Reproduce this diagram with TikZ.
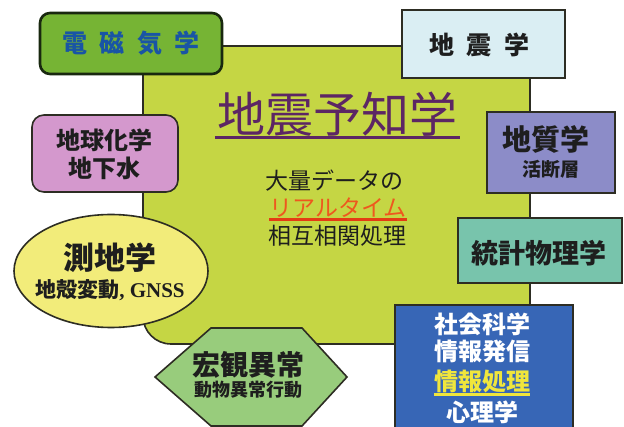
\documentclass[tikz,border=0pt]{standalone}
\usepackage{fontspec}
\setmainfont{Liberation Serif}
\newfontfamily\jp{Noto Sans CJK JP}
\usetikzlibrary{shapes.geometric}
\definecolor{core}{RGB}{197,214,68}
\definecolor{edge}{RGB}{45,45,35}
\definecolor{emedge}{RGB}{25,40,15}
\definecolor{emg}{RGB}{118,180,52}
\definecolor{emtxt}{RGB}{25,85,165}
\definecolor{seis}{RGB}{218,238,243}
\definecolor{geol}{RGB}{140,140,200}
\definecolor{geoc}{RGB}{212,152,205}
\definecolor{geod}{RGB}{242,236,122}
\definecolor{anom}{RGB}{152,204,124}
\definecolor{stat}{RGB}{120,196,172}
\definecolor{soc}{RGB}{55,102,182}
\definecolor{ttl}{RGB}{92,38,100}
\definecolor{rt}{RGB}{238,88,30}
\definecolor{rtline}{RGB}{228,60,20}
\definecolor{hl}{RGB}{240,230,60}
\definecolor{ink}{RGB}{30,30,30}
\begin{document}
\begin{tikzpicture}[x=1pt,y=-1pt,
  box/.style={draw=edge,line width=1.6pt,inner sep=0pt},
  lbl/.style={inner sep=0pt,text=ink},
  fb/.style={font=\jp\bfseries\fontsize{#1}{#1}\selectfont},
  fr/.style={font=\jp\fontsize{#1}{#1}\selectfont}]
\useasboundingbox (0,0) rectangle (624,427);
\clip (0,0) rectangle (624,427);
\fill[white] (0,0) rectangle (624,427);

% central field
\node[box, fill=core, rounded corners=28pt, minimum width=387pt, minimum height=298pt] (core) at (336.5,195) {};

% title
\node[lbl, text=ttl, fr=48] (title) at (337,114) {地震予知学};
\draw[ttl, line width=3pt] ([xshift=-2pt,yshift=-1pt]title.south west) -- ([xshift=3pt,yshift=-1pt]title.south east);

% central text
\node[lbl, fr=23] (l1) at (334,181) {大量データの};
\node[lbl, text=rt, fr=23] (l2) at (338,208) {リアルタイム};
\draw[rtline, line width=3pt] ([yshift=-1pt]l2.south west) -- ([yshift=-1pt]l2.south east);
\node[lbl, fr=23] (l3) at (337,236) {相互相関処理};

% electromagnetics
\node[box, draw=emedge, line width=2.6pt, fill=emg, rounded corners=10pt, minimum width=182pt, minimum height=61pt] (em) at (131,43.5) {};
\node[lbl, text=emtxt, fb=25] (emt) at (131,43) {電\hspace{0.5em}磁\hspace{0.5em}気\hspace{0.5em}学};

% seismology
\node[box, fill=seis, minimum width=163pt, minimum height=68pt] (seis) at (483.5,44) {};
\node[lbl, fb=25] (seist) at (479,45) {地\hspace{0.5em}震\hspace{0.5em}学};

% geology
\node[box, fill=geol, minimum width=128pt, minimum height=81pt] (geol) at (551,152.5) {};
\node[lbl, fb=29] (geol1) at (546,139) {地質学};
\node[lbl, fb=19] (geol2) at (551,169) {活断層};

% geochemistry
\node[box, fill=geoc, rounded corners=12pt, minimum width=146pt, minimum height=77pt] (geoc) at (105,153.5) {};
\node[lbl, fb=24] (geoc1) at (104.5,140) {地球化学};
\node[lbl, fb=24] (geoc2) at (104,168) {地下水};

% geodesy
\node[box, ellipse, fill=geod, minimum width=194pt, minimum height=113pt] (geod) at (111,271) {};
\node[lbl, fb=31] (geod1) at (110,258) {測地学};
\node[lbl, font=\bfseries\fontsize{21}{21}\selectfont] (geod2) at (110,290) {{\jp 地殻変動}, GNSS};

% macro anomalies
\draw[box, fill=anom] (155,377) -- (211,328) -- (302,328) -- (347,377) -- (302,426) -- (211,426) -- cycle;
\node[lbl, fb=28] (anom1) at (248,365) {宏観異常};
\node[lbl, fb=18] (anom2) at (248,390) {動物異常行動};

% statistical physics
\node[box, fill=stat, minimum width=164pt, minimum height=65pt] (stat) at (540,250.5) {};
\node[lbl, fb=27] (statt) at (538.5,253) {統計物理学};

% social science
\node[box, fill=soc, minimum width=178pt, minimum height=134pt] (soc) at (484,372) {};
\node[lbl, text=white, fb=24] (soc1) at (482,324) {社会科学};
\node[lbl, text=white, fb=24] (soc2) at (482,351) {情報発信};
\node[lbl, text=hl, fb=24] (soc3) at (482,381) {情報処理};
\draw[hl, line width=2.5pt] ([yshift=-2pt]soc3.south west) -- ([yshift=-2pt]soc3.south east);
\node[lbl, text=white, fb=24] (soc4) at (482,412) {心理学};
\end{tikzpicture}
\end{document}
